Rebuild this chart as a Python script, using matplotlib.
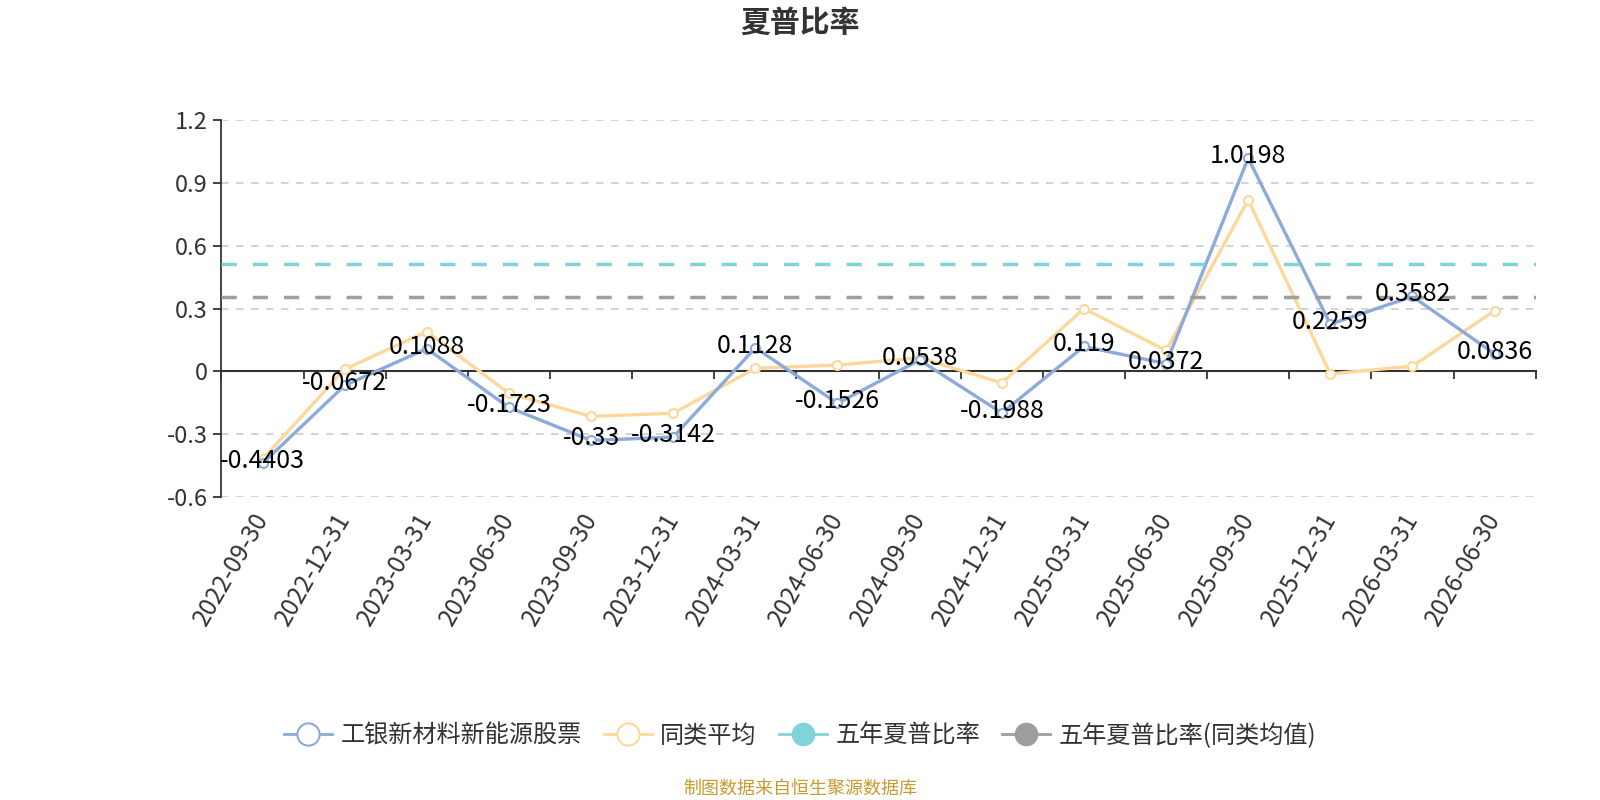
import matplotlib
matplotlib.use("Agg")
import matplotlib.pyplot as plt
from matplotlib.lines import Line2D
import matplotlib.transforms as mtransforms

plt.rcParams['font.family'] = ['Noto Sans CJK SC', 'DejaVu Sans']

categories = ["2022-09-30", "2022-12-31", "2023-03-31", "2023-06-30", "2023-09-30",
              "2023-12-31", "2024-03-31", "2024-06-30", "2024-09-30", "2024-12-31",
              "2025-03-31", "2025-06-30", "2025-09-30", "2025-12-31", "2026-03-31",
              "2026-06-30"]
fund = [-0.4403, -0.0672, 0.1088, -0.1723, -0.33, -0.3142, 0.1128, -0.1526,
        0.0538, -0.1988, 0.119, 0.0372, 1.0198, 0.2259, 0.3582, 0.0836]
peer_avg = [-0.42, 0.01, 0.19, -0.105, -0.215, -0.20, 0.015, 0.03,
            0.065, -0.055, 0.30, 0.10, 0.82, -0.012, 0.025, 0.29]
five_year = 0.512
five_year_peer = 0.356
yticks = [-0.6, -0.3, 0, 0.3, 0.6, 0.9, 1.2]
ytick_labels = ["-0.6", "-0.3", "0", "0.3", "0.6", "0.9", "1.2"]

series_names = ["工银新材料新能源股票", "同类平均", "五年夏普比率", "五年夏普比率(同类均值)"]
c_fund = "#8caadb"
c_peer = "#fdd89a"
c_five = "#80d4d9"
c_five_peer = "#9e9e9e"

fig = plt.figure(figsize=(16, 8), dpi=100)
ax = fig.add_axes([0.1384, 0.3789, 0.8214, 0.4706])

x = list(range(len(categories)))
ax.set_xlim(-0.5, len(categories) - 0.5)
ax.set_ylim(-0.6, 1.2)

# grid
for yv in yticks:
    if yv != 0:
        ax.axhline(yv, color="#cccccc", lw=1.2, ls=(0, (4.5, 4.5)), zorder=1)

ax.plot(x, fund, color=c_fund, lw=2.4, marker='o', markersize=6.5,
        markerfacecolor='white', markeredgecolor=c_fund, markeredgewidth=1.5, zorder=4)
ax.plot(x, peer_avg, color=c_peer, lw=2.4, marker='o', markersize=6.5,
        markerfacecolor='white', markeredgecolor=c_peer, markeredgewidth=1.5, zorder=3)
ax.axhline(five_year, color=c_five, lw=2.5, ls=(0, (4.4, 4.6)), zorder=5)
ax.axhline(five_year_peer, color=c_five_peer, lw=2.5, ls=(0, (4.4, 4.6)), zorder=5)

lab_off = mtransforms.ScaledTranslation(0, 2 / 100, fig.dpi_scale_trans)
for xi, v in zip(x, fund):
    ax.text(xi, v, f"{v:g}", ha='center', va='center', fontsize=18, color='#000000',
            zorder=6, transform=ax.transData + lab_off)

# spines
for s in ['top', 'right']:
    ax.spines[s].set_visible(False)
ax.spines['left'].set_color('#333333')
ax.spines['left'].set_linewidth(1.3)
ax.spines['bottom'].set_position(('data', 0))
ax.spines['bottom'].set_color('#333333')
ax.spines['bottom'].set_linewidth(1.5)

ax.set_yticks(yticks)
ax.set_yticklabels(ytick_labels)
ax.tick_params(axis='y', direction='out', length=6, width=1.3, color='#333333',
               labelsize=17, labelcolor='#333333', pad=4)

bounds = [i - 0.5 for i in range(len(categories) + 1)]
ax.set_xticks(bounds)
ax.set_xticklabels([])
ax.tick_params(axis='x', direction='out', length=6, width=1.3, color='#333333')

trans = mtransforms.blended_transform_factory(ax.transData, ax.transAxes)
offset = mtransforms.ScaledTranslation(-11 / 100, -11 / 100, fig.dpi_scale_trans)
for xi, lab in zip(x, categories):
    ax.text(xi, 0, lab, transform=trans + offset, rotation=60, ha='right', va='top',
            rotation_mode='anchor', fontsize=17.5, color='#333333')

fig.text(0.5, 0.972, "夏普比率", ha='center', va='center', fontsize=21.5,
         fontweight='bold', color='#333333')

handles = [
    Line2D([0], [0], color=c_fund, lw=2, marker='o', markersize=16,
           markerfacecolor='white', markeredgecolor=c_fund, markeredgewidth=1.5),
    Line2D([0], [0], color=c_peer, lw=2, marker='o', markersize=16,
           markerfacecolor='white', markeredgecolor=c_peer, markeredgewidth=1.5),
    Line2D([0], [0], color=c_five, lw=2, marker='o', markersize=16,
           markerfacecolor=c_five, markeredgecolor=c_five),
    Line2D([0], [0], color=c_five_peer, lw=2, marker='o', markersize=16,
           markerfacecolor=c_five_peer, markeredgecolor=c_five_peer),
]
fig.legend(handles, series_names, loc='center', bbox_to_anchor=(0.5, 0.0804), ncol=4,
           frameon=False, fontsize=17.4, handlelength=2.0, columnspacing=0.9,
           handletextpad=0.35, labelcolor='#333333')

fig.text(0.5, 0.014, "制图数据来自恒生聚源数据库", ha='center', va='center',
         fontsize=13, color='#c99a2e')

fig.savefig("out.png", dpi=100, facecolor='white')
